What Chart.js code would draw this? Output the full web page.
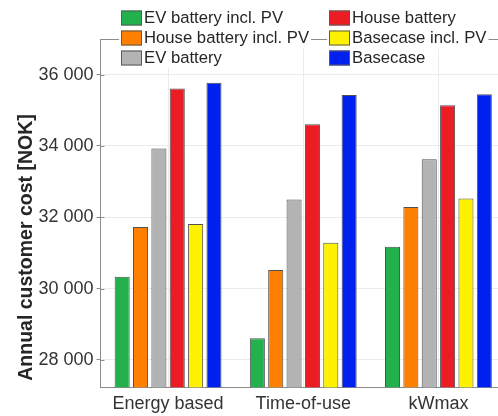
<!DOCTYPE html>
<html>
<head>
<meta charset="utf-8">
<script src="https://cdn.jsdelivr.net/npm/chart.js@4/dist/chart.umd.min.js"></script>
<style>
  html, body { margin: 0; padding: 0; background: #fff; overflow: hidden; }
  #wrap { position: relative; width: 506px; height: 416px; }
</style>
</head>
<body>
<div id="wrap"><canvas id="c"></canvas></div>
<script>
const categories = ['Energy based', 'Time-of-use', 'kWmax'];
const seriesNames = ['EV battery incl. PV', 'House battery incl. PV', 'EV battery', 'House battery', 'Basecase incl. PV', 'Basecase'];
const evBatteryPV = [30330, 28605, 31170];
const houseBatteryPV = [31730, 30520, 32290];
const evBattery = [33930, 32500, 33630];
const houseBattery = [35615, 34610, 35140];
const basecasePV = [31810, 31285, 32525];
const basecase = [35775, 35430, 35450];
const yTicks = [28000, 30000, 32000, 34000, 36000];
const yTitle = 'Annual customer cost [NOK]';

const colors = ['#22b14c', '#ff7f00', '#b3b3b3', '#ec1c24', '#fff200', '#0020f0'];
const values = [evBatteryPV, houseBatteryPV, evBattery, houseBattery, basecasePV, basecase];
const FONT = '"Liberation Sans", Arial, Helvetica, sans-serif';

const datasets = values.map((v, i) => ({
  label: seriesNames[i],
  data: v,
  backgroundColor: colors[i],
  borderColor: '#505050',
  borderWidth: 1,
  borderSkipped: 'bottom',
  categoryPercentage: 0.815,
  barPercentage: 0.82
}));

const decor = {
  id: 'decor',
  afterDraw(chart) {
    const ctx = chart.ctx;
    const a = chart.chartArea;
    ctx.save();
    // top box line
    ctx.strokeStyle = '#8c8c8c';
    ctx.lineWidth = 1;
    ctx.beginPath();
    ctx.moveTo(a.left, a.top + 0.5);
    ctx.lineTo(a.right, a.top + 0.5);
    ctx.stroke();

    // legend (two columns, three rows)
    ctx.font = '16.7px ' + FONT;
    ctx.textBaseline = 'middle';
    ctx.textAlign = 'left';
    const colX = [121, 329];
    const rowY = [10.5, 30.5, 50.5];
    chart.data.datasets.forEach((ds, i) => {
      const col = Math.floor(i / 3), row = i % 3;
      const sx = colX[col], sy = rowY[row];
      const tx = sx + 23;
      const w = ctx.measureText(ds.label).width;
      ctx.fillStyle = '#ffffff';
      ctx.fillRect(sx - 2, sy - 3, (tx + w + 2) - (sx - 2), 21);
    });
    chart.data.datasets.forEach((ds, i) => {
      const col = Math.floor(i / 3), row = i % 3;
      const sx = colX[col], sy = rowY[row];
      ctx.fillStyle = ds.backgroundColor;
      ctx.fillRect(sx, sy, 21, 15);
      ctx.strokeStyle = '#5a5a5a';
      ctx.lineWidth = 1;
      ctx.strokeRect(sx + 0.5, sy + 0.5, 20, 14);
      ctx.fillStyle = '#262626';
      ctx.fillText(ds.label, sx + 23, sy + 8);
    });

    // inward tick marks on y axis
    const ys = chart.scales.y;
    ctx.strokeStyle = '#8c8c8c';
    ctx.beginPath();
    yTicks.forEach(v => {
      const py = Math.round(ys.getPixelForValue(v)) + 0.5;
      ctx.moveTo(a.left, py);
      ctx.lineTo(a.left + 4, py);
    });
    ctx.stroke();

    // y axis title
    ctx.font = 'bold 19.5px ' + FONT;
    ctx.fillStyle = '#262626';
    ctx.textAlign = 'center';
    ctx.textBaseline = 'middle';
    ctx.translate(27, 247.5);
    ctx.rotate(-Math.PI / 2);
    ctx.fillText(yTitle, 0, 0);
    ctx.restore();
  }
};

new Chart(document.getElementById('c'), {
  type: 'bar',
  data: { labels: categories, datasets },
  options: {
    responsive: true,
    maintainAspectRatio: false,
    animation: false,
    layout: { padding: { top: 39, left: 0, right: 0, bottom: 0 } },
    plugins: { legend: { display: false }, tooltip: { enabled: false } },
    scales: {
      x: {
        offset: true,
        grid: { offset: false, color: '#ebebeb', drawTicks: false, lineWidth: 1 },
        border: { color: '#8c8c8c', width: 1 },
        ticks: { color: '#333333', font: { family: FONT, size: 18 }, padding: 6, maxRotation: 0 },
        afterFit(s) { s.height = 28.7; }
      },
      y: {
        min: 27230,
        max: 37000,
        afterBuildTicks(s) { s.ticks = yTicks.map(v => ({ value: v })); },
        grid: { color: '#ebebeb', tickColor: '#8c8c8c', tickLength: 4, lineWidth: 1 },
        border: { color: '#8c8c8c', width: 1 },
        ticks: {
          color: '#333333',
          font: { family: FONT, size: 18 },
          padding: 3,
          callback: v => String(v).replace(/\B(?=(\d{3})+(?!\d))/g, ' ')
        },
        afterFit(s) { s.width = 100.5; }
      }
    }
  },
  plugins: [decor]
});
</script>
</body>
</html>
